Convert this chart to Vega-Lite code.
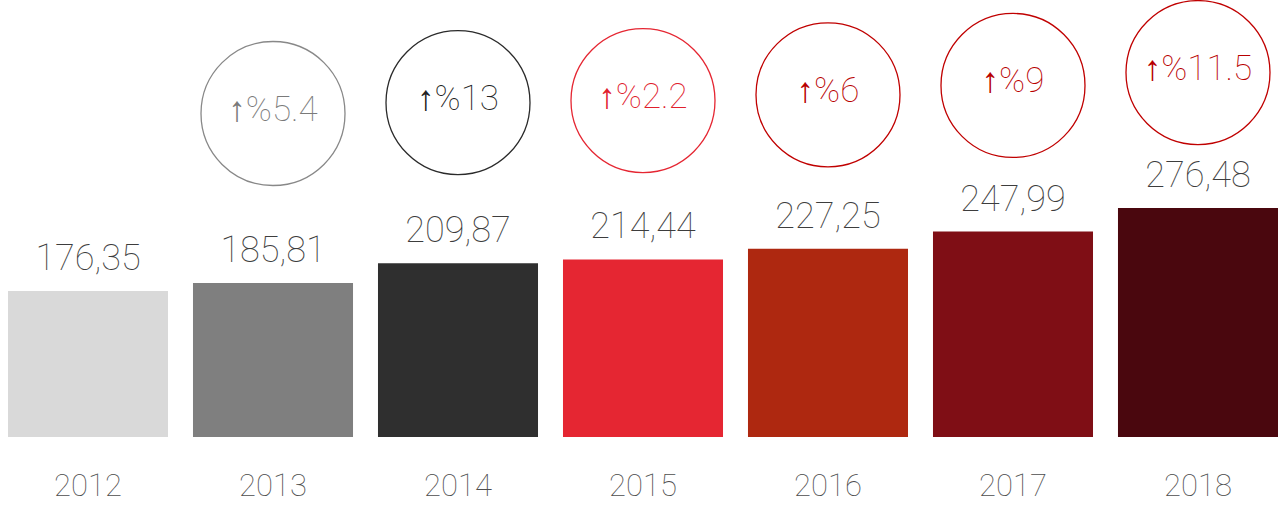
{
  "$schema": "https://vega.github.io/schema/vega-lite/v6.json",
  "width": 1280,
  "height": 437,
  "autosize": {"type": "none"},
  "padding": {"left": 0, "right": 0, "top": 0, "bottom": 70},
  "background": "white",
  "config": {"view": {"stroke": null}, "font": "Roboto"},
  "data": {
    "values": [
      {"year": "2012", "value": 176.35, "label": "176,35", "change": null},
      {"year": "2013", "value": 185.81, "label": "185,81", "change": "↑%5.4"},
      {"year": "2014", "value": 209.87, "label": "209,87", "change": "↑%13"},
      {"year": "2015", "value": 214.44, "label": "214,44", "change": "↑%2.2"},
      {"year": "2016", "value": 227.25, "label": "227,25", "change": "↑%6"},
      {"year": "2017", "value": 247.99, "label": "247,99", "change": "↑%9"},
      {"year": "2018", "value": 276.48, "label": "276,48", "change": "↑%11.5"}
    ]
  },
  "encoding": {
    "x": {
      "field": "year",
      "type": "nominal",
      "sort": null,
      "scale": {"paddingInner": 0.135, "paddingOuter": 0.027, "align": 0.8},
      "axis": {
        "title": null,
        "labelAngle": 0,
        "ticks": false,
        "tickSize": 0,
        "domain": false,
        "grid": false,
        "labelFontSize": 31,
        "labelFont": "Roboto",
        "labelFontWeight": 100,
        "labelColor": "#4d4d4d",
        "labelBaseline": "alphabetic",
        "labelPadding": 58
      }
    }
  },
  "layer": [
    {
      "layer": [
        {
          "mark": {"type": "bar"},
          "encoding": {
            "y": {"field": "value", "type": "quantitative", "scale": {"domain": [0, 527.6], "nice": false}, "axis": null},
            "color": {
              "field": "year",
              "type": "nominal",
              "scale": {
                "domain": ["2012", "2013", "2014", "2015", "2016", "2017", "2018"],
                "range": ["#d9d9d9", "#7f7f7f", "#2f2f2f", "#e52632", "#ae2810", "#7f0e15", "#4a070e"]
              },
              "legend": null
            }
          }
        },
        {
          "mark": {"type": "text", "baseline": "alphabetic", "dy": -21, "fontSize": 36, "fontWeight": 100, "color": "#3d3d3d"},
          "encoding": {
            "y": {"field": "value", "type": "quantitative"},
            "text": {"field": "label"}
          }
        }
      ]
    },
    {
      "transform": [{"filter": "datum.change != null"}],
      "layer": [
        {
          "mark": {"type": "point", "shape": "circle", "filled": false, "size": 20736, "strokeWidth": 1.3, "opacity": 1},
          "encoding": {
            "y": {"field": "value", "type": "quantitative", "scale": {"domain": [-531.5, 437.5], "nice": false, "zero": false}, "axis": null},
            "stroke": {
              "field": "year",
              "type": "nominal",
              "scale": {
                "domain": ["2013", "2014", "2015", "2016", "2017", "2018"],
                "range": ["#888888", "#2a2a2a", "#e52632", "#c00000", "#c00000", "#c00000"]
              },
              "legend": null
            }
          }
        },
        {
          "mark": {"type": "text", "baseline": "middle", "dy": -4, "fontSize": 35, "fontWeight": 100},
          "encoding": {
            "y": {"field": "value", "type": "quantitative"},
            "text": {"field": "change"},
            "fill": {
              "field": "year",
              "type": "nominal",
              "scale": {
                "domain": ["2013", "2014", "2015", "2016", "2017", "2018"],
                "range": ["#7a7a7a", "#222222", "#e0202c", "#b80000", "#b80000", "#b80000"]
              },
              "legend": null
            }
          }
        }
      ]
    }
  ],
  "resolve": {"scale": {"y": "independent"}}
}
